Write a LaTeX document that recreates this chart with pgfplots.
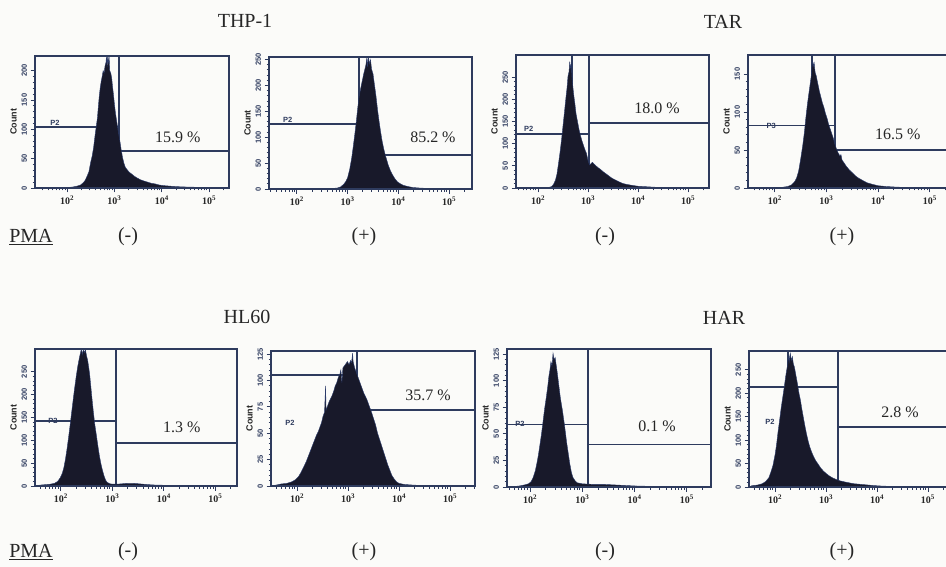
\documentclass[border=0pt]{standalone}
\usepackage{pgfplots}
\pgfplotsset{compat=1.18}
\usepackage{fontspec}
\setmainfont{Liberation Serif}
\setsansfont{Liberation Sans}
\definecolor{bg}{HTML}{FBFBF9}
\definecolor{axc}{HTML}{2E3B5E}
\definecolor{histc}{HTML}{18192A}
\definecolor{histedge}{HTML}{2A3A6A}
\definecolor{txt}{HTML}{262626}
\tikzset{
 gate/.style={axc, line width=1.6pt},
 hfill/.style={fill=histc, draw=histedge, line width=0.4pt},
 pct/.style={font=\fontsize{16}{18}\selectfont, text=txt},
 ptag/.style={font=\fontsize{7.5}{8}\selectfont\sffamily\bfseries, text=axc, inner sep=1pt},
 lab/.style={font=\fontsize{20}{22}\selectfont, text=txt},
}
\pgfplotsset{
 facs/.style={
  scale only axis, anchor=south west,
  axis on top,
  axis line style={axc, line width=1.5pt},
  tick style={axc, line width=0.9pt},
  tick align=outside, tick pos=left,
  major tick length=4.5pt, minor tick length=2.5pt,
  xtick={2,3,4,5},
  xticklabels={10\textsuperscript{2},10\textsuperscript{3},10\textsuperscript{4},10\textsuperscript{5}},
  minor xtick={1.301,1.477,1.602,1.699,1.778,1.845,1.903,1.954,
   2.301,2.477,2.602,2.699,2.778,2.845,2.903,2.954,
   3.301,3.477,3.602,3.699,3.778,3.845,3.903,3.954,
   4.301,4.477,4.602,4.699,4.778,4.845,4.903,4.954,
   5.301,5.477},
  minor y tick num=4,
  /pgf/number format/assume math mode=true,
  xticklabel style={font=\fontsize{10}{11}\selectfont\bfseries, text=txt},
  yticklabel style={font=\fontsize{7.5}{8}\selectfont\sffamily\bfseries, text=axc, rotate=90, anchor=south},
  ylabel={Count},
  ylabel style={font=\fontsize{9}{10}\selectfont\sffamily\bfseries, text=txt, yshift=-2pt},
  ymin=0,
 },
}
\begin{document}
\begin{tikzpicture}[x=1pt,y=1pt]
\fill[bg] (0,0) rectangle (946,-567);
\clip (0,0) rectangle (946,-567);
% titles and PMA rows
\node[lab] at (245,-21) {THP-1};
\node[lab] at (723,-22) {TAR};
\node[lab] at (247,-317) {HL60};
\node[lab] at (724,-318) {HAR};
\node[lab] at (31,-237) {\underline{PMA}};
\node[lab] at (128,-237) {(-)};
\node[lab] at (364,-237) {(+)};
\node[lab] at (605,-237) {(-)};
\node[lab] at (842,-237) {(+)};
\node[lab] at (31,-552) {\underline{PMA}};
\node[lab] at (128,-552) {(-)};
\node[lab] at (364,-552) {(+)};
\node[lab] at (605,-552) {(-)};
\node[lab] at (842,-552) {(+)};

% ---- Panel 1: THP-1 PMA(-)
\begin{axis}[facs, at={(35pt,-188pt)}, width=194pt, height=132pt,
  xmin=1.32, xmax=5.42, ymax=225, ytick={0,50,100,150,200}]
\draw[gate] (axis cs:1.32,104) -- (axis cs:3.10,104);
\draw[gate] (axis cs:3.10,0) -- (axis cs:3.10,225);
\draw[gate] (axis cs:3.10,63) -- (axis cs:5.42,63);
\addplot[hfill] coordinates {(1.32,0)(1.9,0.5)(2.0,1)(2.1,1.5)(2.2,3)(2.28,5)(2.34,9)(2.38,13)(2.42,20)(2.46,28)(2.5,45)(2.53,55)(2.56,70)(2.59,90)(2.62,108)(2.64,120)(2.66,140)(2.68,158)(2.7,172)(2.72,182)(2.74,190)(2.76,200)(2.78,196)(2.8,208)(2.82,214)(2.83,224)(2.845,206)(2.855,225)(2.87,212)(2.885,225)(2.9,200)(2.92,196)(2.94,188)(2.96,172)(2.98,158)(3.0,142)(3.02,128)(3.05,112)(3.08,96)(3.11,82)(3.14,66)(3.17,52)(3.2,42)(3.23,35)(3.27,31)(3.31,27)(3.36,24)(3.42,20)(3.48,17)(3.55,14)(3.62,12)(3.7,10)(3.78,8)(3.86,7)(3.95,5)(4.05,4)(4.2,3)(4.4,2)(4.6,1.5)(4.9,1)(5.2,0.5)(5.42,0)} \closedcycle;
\node[ptag, anchor=south] at (axis cs:1.74,104) {P2};
\node[pct] at (axis cs:4.34,87) {15.9 \%};
\end{axis}

% ---- Panel 2: THP-1 PMA(+)
\begin{axis}[facs, at={(269pt,-189pt)}, width=203pt, height=132pt,
  xmin=1.45, xmax=5.45, ymax=255, ytick={0,50,100,150,200,250}]
\draw[gate] (axis cs:1.45,126) -- (axis cs:3.22,126);
\draw[gate] (axis cs:3.22,0) -- (axis cs:3.22,255);
\draw[gate] (axis cs:3.22,66) -- (axis cs:5.45,66);
\addplot[hfill] coordinates {(1.45,0)(2.4,0.5)(2.7,1)(2.8,2)(2.86,4)(2.92,9)(2.96,14)(3.0,22)(3.04,38)(3.08,60)(3.11,82)(3.14,105)(3.17,130)(3.2,158)(3.23,180)(3.26,196)(3.29,210)(3.32,224)(3.34,232)(3.36,240)(3.38,255)(3.39,236)(3.41,255)(3.43,242)(3.45,250)(3.47,232)(3.5,222)(3.53,200)(3.56,178)(3.59,152)(3.62,130)(3.65,110)(3.68,92)(3.71,78)(3.74,66)(3.77,56)(3.8,46)(3.84,36)(3.88,28)(3.93,20)(3.98,14)(4.04,10)(4.1,7)(4.18,5)(4.28,3)(4.4,2)(4.6,1)(4.9,0.5)(5.45,0)} \closedcycle;
\node[ptag, anchor=south] at (axis cs:1.82,126) {P2};
\node[pct] at (axis cs:4.68,100) {85.2 \%};
\end{axis}

% ---- Panel 3: TAR PMA(-)
\begin{axis}[facs, at={(516pt,-188pt)}, width=193pt, height=133pt,
  xmin=1.56, xmax=5.42, ymax=300, ytick={0,50,100,150,200,250}]
\draw[gate] (axis cs:1.56,122) -- (axis cs:3.02,122);
\draw[gate] (axis cs:2.68,122) -- (axis cs:2.68,300);
\draw[gate] (axis cs:3.02,0) -- (axis cs:3.02,300);
\draw[gate] (axis cs:3.02,147) -- (axis cs:5.42,147);
\addplot[hfill] coordinates {(1.56,0)(2.1,0.5)(2.2,1)(2.27,3)(2.31,8)(2.35,18)(2.38,32)(2.41,55)(2.44,80)(2.47,108)(2.5,140)(2.53,172)(2.56,205)(2.58,225)(2.6,252)(2.62,262)(2.635,285)(2.65,270)(2.665,280)(2.68,248)(2.7,225)(2.72,205)(2.74,188)(2.76,168)(2.79,150)(2.82,132)(2.85,118)(2.88,106)(2.91,96)(2.94,86)(2.97,78)(3.0,62)(3.03,52)(3.06,55)(3.09,58)(3.12,54)(3.16,50)(3.2,46)(3.25,42)(3.3,37)(3.36,32)(3.42,27)(3.48,22)(3.55,18)(3.62,14)(3.7,10)(3.78,8)(3.88,6)(4.0,4)(4.15,3)(4.3,2)(4.5,1)(4.8,0.5)(5.42,0)} \closedcycle;
\node[ptag, anchor=south west] at (axis cs:1.7,124) {P2};
\node[pct] at (axis cs:4.38,180) {18.0 \%};
\end{axis}

% ---- Panel 4: TAR PMA(+)
\begin{axis}[facs, at={(748pt,-188pt)}, width=205pt, height=133pt,
  xmin=1.48, xmax=5.45, ymax=175, ytick={0,50,100,150}]
\draw[gate] (axis cs:1.48,82) -- (axis cs:3.16,82);
\draw[gate] (axis cs:2.72,82) -- (axis cs:2.72,175);
\draw[gate] (axis cs:3.16,0) -- (axis cs:3.16,175);
\draw[gate] (axis cs:3.16,50) -- (axis cs:5.45,50);
\addplot[hfill] coordinates {(1.48,0)(2.0,0.5)(2.15,1)(2.25,2)(2.32,4)(2.38,8)(2.42,13)(2.46,22)(2.5,38)(2.54,56)(2.57,72)(2.6,92)(2.63,110)(2.66,125)(2.69,140)(2.71,150)(2.73,168)(2.745,160)(2.76,165)(2.78,152)(2.8,148)(2.83,138)(2.86,128)(2.89,120)(2.92,112)(2.95,106)(2.98,98)(3.01,92)(3.04,84)(3.07,78)(3.1,72)(3.13,66)(3.16,58)(3.19,52)(3.22,47)(3.26,42)(3.28,44)(3.3,37)(3.34,33)(3.39,28)(3.44,24)(3.5,20)(3.56,16)(3.62,13)(3.7,10)(3.78,7)(3.88,5)(4.0,3)(4.15,2)(4.35,1.2)(4.6,0.6)(5.45,0)} \closedcycle;
\node[ptag] at (axis cs:1.93,82) {P3};
\node[pct] at (axis cs:4.38,71) {16.5 \%};
\end{axis}

% ---- Panel 5: HL60 PMA(-)
\begin{axis}[facs, at={(35pt,-486pt)}, width=202pt, height=137pt,
  xmin=1.5, xmax=5.42, ymax=300, ytick={0,50,100,150,200,250}]
\draw[gate] (axis cs:1.5,142) -- (axis cs:3.07,142);
\draw[gate] (axis cs:3.07,0) -- (axis cs:3.07,300);
\draw[gate] (axis cs:3.07,94) -- (axis cs:5.42,94);
\addplot[hfill] coordinates {(1.5,0)(1.6,2)(1.7,3)(1.8,4)(1.88,6)(1.94,10)(1.99,18)(2.03,28)(2.06,40)(2.09,58)(2.12,80)(2.15,105)(2.18,132)(2.21,160)(2.24,188)(2.27,215)(2.3,240)(2.33,262)(2.36,280)(2.38,290)(2.4,300)(2.42,288)(2.44,300)(2.46,292)(2.48,298)(2.5,285)(2.52,276)(2.54,262)(2.56,245)(2.58,222)(2.6,198)(2.63,165)(2.66,135)(2.69,112)(2.72,88)(2.75,66)(2.78,48)(2.81,34)(2.84,22)(2.87,13)(2.9,8)(2.95,5)(3.0,4)(3.1,4)(3.2,5)(3.3,6)(3.4,6)(3.5,5)(3.6,4)(3.7,3)(3.85,2)(4.1,1.5)(4.5,1)(5.0,0.5)(5.42,0)} \closedcycle;
\node[ptag] at (axis cs:1.85,142) {P2};
\node[pct] at (axis cs:4.35,129) {1.3 \%};
\end{axis}

% ---- Panel 6: HL60 PMA(+)
\begin{axis}[facs, at={(271pt,-486pt)}, width=204pt, height=135pt,
  xmin=1.49, xmax=5.49, ymax=128, ytick={0,25,50,75,100,125}]
\draw[gate] (axis cs:1.49,105) -- (axis cs:3.18,105);
\draw[gate] (axis cs:3.18,0) -- (axis cs:3.18,128);
\draw[gate] (axis cs:3.18,72) -- (axis cs:5.49,72);
\addplot[hfill] coordinates {(1.49,0)(1.6,1)(1.7,2)(1.8,2.5)(1.9,4)(1.97,6)(2.03,9)(2.08,13)(2.13,18)(2.18,23)(2.22,28)(2.26,33)(2.3,38)(2.34,43)(2.38,48)(2.42,52)(2.45,56)(2.48,60)(2.51,66)(2.54,70)(2.56,95)(2.57,72)(2.6,76)(2.63,80)(2.66,83)(2.69,86)(2.72,90)(2.75,95)(2.78,98)(2.81,103)(2.84,106)(2.86,110)(2.88,98)(2.9,112)(2.93,114)(2.96,116)(2.99,118)(3.02,115)(3.05,119)(3.07,117)(3.09,126)(3.1,118)(3.13,112)(3.16,108)(3.19,104)(3.22,100)(3.25,96)(3.28,92)(3.31,88)(3.34,85)(3.37,82)(3.4,78)(3.43,74)(3.46,70)(3.5,64)(3.54,58)(3.58,50)(3.62,44)(3.66,38)(3.7,32)(3.74,26)(3.78,20)(3.82,15)(3.86,10)(3.9,7)(3.95,4)(4.0,2.5)(4.1,1.5)(4.3,0.8)(4.6,0.4)(5.49,0)} \closedcycle;
\node[ptag] at (axis cs:1.86,60) {P2};
\node[pct] at (axis cs:4.57,86) {35.7 \%};
\end{axis}

% ---- Panel 7: HAR PMA(-)
\begin{axis}[facs, at={(507pt,-487pt)}, width=204pt, height=138pt,
  xmin=1.56, xmax=5.46, ymax=130, ytick={0,25,50,75,100,125}]
\draw[gate] (axis cs:1.56,59) -- (axis cs:3.11,59);
\draw[gate] (axis cs:3.11,0) -- (axis cs:3.11,130);
\draw[gate] (axis cs:3.11,40) -- (axis cs:5.46,40);
\addplot[hfill] coordinates {(1.56,0)(1.7,0.5)(1.8,1)(1.9,2)(1.97,3)(2.02,5)(2.06,9)(2.1,15)(2.13,22)(2.16,30)(2.19,40)(2.22,50)(2.25,62)(2.28,74)(2.31,84)(2.34,95)(2.36,104)(2.38,110)(2.4,118)(2.42,114)(2.44,126)(2.46,120)(2.48,122)(2.5,115)(2.52,108)(2.54,100)(2.56,92)(2.58,84)(2.6,78)(2.62,72)(2.64,65)(2.66,58)(2.68,50)(2.7,42)(2.73,32)(2.76,22)(2.79,14)(2.82,9)(2.86,6)(2.9,4)(3.0,3)(3.2,2.5)(3.4,2.5)(3.6,2)(3.8,1.5)(4.0,1)(4.4,0.5)(5.46,0)} \closedcycle;
\node[ptag] at (axis cs:1.81,59) {P2};
\node[pct] at (axis cs:4.43,57) {0.1 \%};
\end{axis}

% ---- Panel 8: HAR PMA(+)
\begin{axis}[facs, at={(749pt,-487pt)}, width=205pt, height=136pt,
  xmin=1.49, xmax=5.51, ymax=290, ytick={0,50,100,150,200,250}]
\draw[gate] (axis cs:1.49,213) -- (axis cs:3.24,213);
\draw[gate] (axis cs:2.25,213) -- (axis cs:2.25,290);
\draw[gate] (axis cs:3.24,0) -- (axis cs:3.24,290);
\draw[gate] (axis cs:3.24,128) -- (axis cs:5.51,128);
\addplot[hfill] coordinates {(1.49,0)(1.55,3)(1.65,4)(1.75,7)(1.82,12)(1.88,20)(1.92,32)(1.96,46)(2.0,68)(2.03,90)(2.06,118)(2.09,142)(2.12,168)(2.15,190)(2.18,212)(2.21,236)(2.23,250)(2.25,262)(2.27,282)(2.28,268)(2.3,285)(2.32,270)(2.34,278)(2.36,262)(2.38,256)(2.41,238)(2.44,220)(2.47,200)(2.5,184)(2.53,164)(2.56,146)(2.59,128)(2.62,112)(2.65,98)(2.68,86)(2.72,74)(2.76,64)(2.8,56)(2.85,48)(2.9,40)(2.95,34)(3.0,29)(3.06,24)(3.12,20)(3.2,16)(3.28,13)(3.36,11)(3.45,9)(3.55,7)(3.65,6)(3.75,5)(3.85,4)(3.95,3)(4.1,2)(4.3,1.2)(4.6,0.6)(5.51,0)} \closedcycle;
\node[ptag] at (axis cs:1.90,139) {P2};
\node[pct] at (axis cs:4.45,160) {2.8 \%};
\end{axis}
\end{tikzpicture}
\end{document}
